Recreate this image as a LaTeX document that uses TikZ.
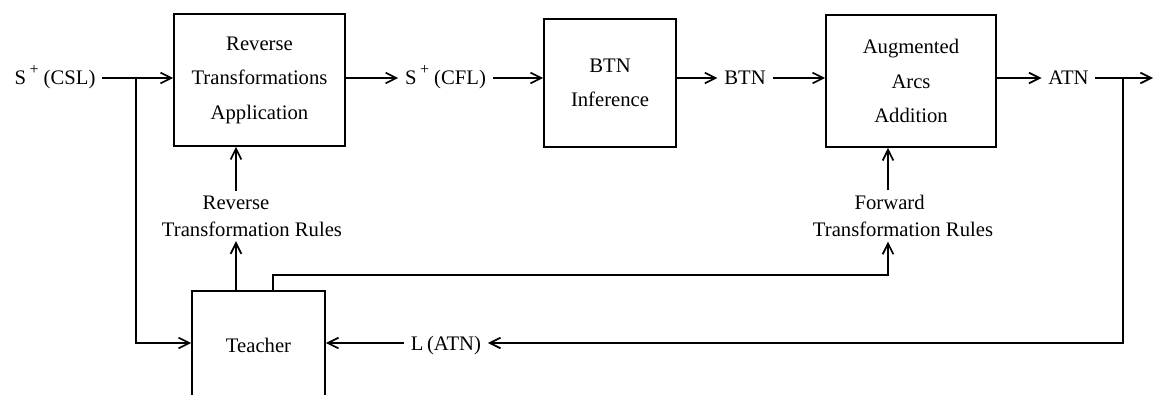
\documentclass[tikz,border=0pt]{standalone}
\usepackage{fontspec}
\setmainfont{Liberation Serif}
\usetikzlibrary{arrows.meta}
% raised plus sign after S
\newcommand{\splus}{S\,\raisebox{0.5em}{\fontsize{12}{12}\selectfont +}}
\begin{document}
\begin{tikzpicture}[x=0.75pt,y=-0.75pt,
  line width=1.3pt,
  arr/.style={-{Straight Barb[length=8pt,width=8pt]}},
  blk/.style={draw,align=center,inner sep=0pt,font=\fontsize{15.5}{25.9}\selectfont},
  lbl/.style={inner sep=4.5pt,font=\fontsize{15.5}{18}\selectfont,anchor=base},
  rules/.style={align=center,inner sep=3pt,font=\fontsize{15.5}{20.25}\selectfont}]
\clip (0,0) rectangle (1155,395);

% helper coordinates for rows and columns
\coordinate (row) at (0,78);
\coordinate (low) at (0,343);
\coordinate (j1) at (136,78);
\coordinate (j2) at (1123,78);
\coordinate (out) at (1153,78);
\coordinate (rarr) at (236,0);
\coordinate (farr) at (888,0);
\coordinate (bend) at (273,275);

% processing blocks
\node[blk,minimum width=128.25pt,minimum height=99pt] (box1) at (259.5,80)
  {Reverse\\Transformations\\Application};
\node[blk,minimum width=99pt,minimum height=96pt] (box2) at (610,83)
  {BTN\\Inference};
\node[blk,minimum width=127.5pt,minimum height=99pt] (box3) at (911,81)
  {Augmented\\Arcs\\Addition};
\node[blk,minimum width=99.75pt,minimum height=81pt] (teacher) at (258.5,345)
  {Teacher};

% data labels on the main row
\node[lbl] (csl) at (55,85) {\splus\ (CSL)};
\node[lbl] (cfl) at (445.5,85) {\splus\ (CFL)};
\node[lbl] (btn) at (745,85) {BTN};
\node[lbl] (atn) at (1068.5,85) {ATN};
\node[lbl] (latn) at (446,350) {L\,(ATN)};

% rule sets
\node[rules] (rev) at (252,216) {Reverse\hspace*{24pt}\\Transformation Rules};
\node[rules] (fwd) at (903,216) {Forward\hspace*{20pt}\\Transformation Rules};

% main flow
\draw[arr] (csl.east |- row) -- (box1.west |- row);
\draw[arr] (box1.east |- row) -- (cfl.west |- row);
\draw[arr] (cfl.east |- row) -- (box2.west |- row);
\draw[arr] (box2.east |- row) -- (btn.west |- row);
\draw[arr] (btn.east |- row) -- (box3.west |- row);
\draw[arr] (box3.east |- row) -- (atn.west |- row);
\draw[arr] (atn.east |- row) -- (out);

% rules feeding the blocks
\draw[arr] (rev.north -| rarr) -- (box1.south -| rarr);
\draw[arr] (fwd.north -| farr) -- (box3.south -| farr);
\draw[arr] (teacher.north -| rarr) -- (rev.south -| rarr);
\draw[arr] (teacher.north -| bend) -- (bend) -| (fwd.south -| farr);

% feedback loops into the teacher
\draw[arr] (j1) |- (teacher.west |- low);
\draw[arr] (j2) |- (latn.east |- low);
\draw[arr] (latn.west |- low) -- (teacher.east |- low);
\end{tikzpicture}
\end{document}
